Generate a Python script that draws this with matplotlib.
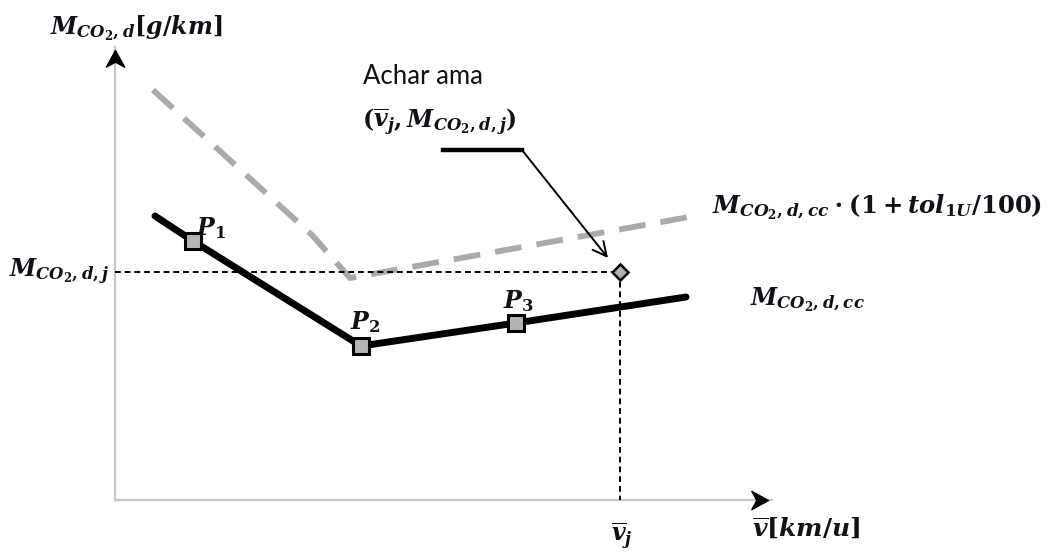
import matplotlib
matplotlib.use('Agg')
import numpy as np
from matplotlib import pyplot as plt
from matplotlib.path import Path

plt.rcParams['mathtext.fontset'] = 'custom'
plt.rcParams['mathtext.rm'] = 'DejaVu Serif:bold'
plt.rcParams['mathtext.it'] = 'DejaVu Serif:italic:bold'
plt.rcParams['mathtext.bf'] = 'DejaVu Serif:bold'

# emission curve M_CO2,d,cc (speed km/u, g/km)
v_cc = [8.0, 15.6, 49.2, 80.2, 114.2]
m_cc = [142.0, 129.5, 77.0, 88.5, 101.5]
point_idx = [1, 2, 3]
point_labels = ['$P_1$', '$P_2$', '$P_3$']

# tolerance curve M_CO2,d,cc * (1 + tol/100)
v_tol = [7.6, 39.4, 47.0, 117.0]
m_tol = [205.0, 132.5, 111.0, 142.5]

# measured point j
v_j = 101.0
m_j = 114.0

# axis extents
v_max = 131.4
m_max = 226.5

TXT = '#111118'
FS = 17

fig = plt.figure(figsize=(10.61, 5.54), dpi=100)
ax = fig.add_axes([0, 0, 1, 1])
ax.set_xlim(-23, 189.2)
ax.set_ylim(-27, 250)
ax.axis('off')

# axes lines with black arrowheads
ax.plot([0, v_max], [0, 0], color='#c8c8c8', lw=1.6, zorder=1)
ax.plot([0, 0], [0, m_max], color='#c8c8c8', lw=1.6, zorder=1)
head = Path([(0, 0), (-1.0, 0.55), (-0.7, 0), (-1.0, -0.55), (0, 0)],
            [Path.MOVETO, Path.LINETO, Path.LINETO, Path.LINETO, Path.CLOSEPOLY])
head_up = Path([(0, 0), (-0.55, -1.0), (0, -0.7), (0.55, -1.0), (0, 0)],
               [Path.MOVETO, Path.LINETO, Path.LINETO, Path.LINETO, Path.CLOSEPOLY])
ax.plot([v_max - 0.8], [0], marker=head, markersize=24, color='black', zorder=5)
ax.plot([0], [m_max - 1.5], marker=head_up, markersize=24, color='black', zorder=5)

# tolerance curve (gray dashed)
ax.plot(v_tol, m_tol, color='#aaaaaa', lw=4.2, dashes=(4.6, 2.6), solid_capstyle='butt', zorder=2)

# guide lines to point j
ax.plot([0, v_j], [m_j, m_j], color='black', lw=1.4, dashes=(3, 2), zorder=3)
ax.plot([v_j, v_j], [m_j, 0], color='black', lw=1.4, dashes=(3, 2), zorder=3)

# emission curve (black)
ax.plot(v_cc, m_cc, color='black', lw=5, solid_capstyle='round', zorder=4)
ax.plot([v_cc[i] for i in point_idx], [m_cc[i] for i in point_idx], ls='none',
        marker='s', markersize=11, markerfacecolor='#b4b4b4', markeredgecolor='black',
        markeredgewidth=2.2, zorder=6)
ax.plot([v_j], [m_j], marker='D', markersize=8, markerfacecolor='#b4b4b4',
        markeredgecolor='black', markeredgewidth=1.8, zorder=6)

# callout leader + arrow
ax.plot([65.6, 81.4], [175, 175], color='black', lw=3.2, zorder=4)
ax.annotate('', xy=(98.6, 121), xytext=(81.4, 175),
            arrowprops=dict(arrowstyle='->,head_length=1.0,head_width=0.5', color='black', lw=1.4,
                            shrinkA=0, shrinkB=0), zorder=4)

# texts
ax.text(-13, 236, r'$M_{CO_2,d}[g/km]$', fontsize=FS, color=TXT, va='center', ha='left')
ax.text(49.6, 212, 'Achar ama', fontsize=18.5, family='Lato', color=TXT, va='center', ha='left')
ax.text(49.4, 189, r'$(\overline{v}_j, M_{CO_2,d,j})$', fontsize=FS, color=TXT, va='center', ha='left')
ax.text(-1, 114, r'$M_{CO_2,d,j}$', fontsize=FS, color=TXT, va='center', ha='right')
ax.text(119.4, 146.5, r'$M_{CO_2,d,cc}\cdot(1 + tol_{1U}/100)$', fontsize=17.5, color=TXT,
        va='center', ha='left')
ax.text(127, 100, r'$M_{CO_2,d,cc}$', fontsize=FS, color=TXT, va='center', ha='left')
ax.text(101.4, -18, r'$\overline{v}_j$', fontsize=FS, color=TXT, va='center', ha='center')
ax.text(127.4, -14, r'$\overline{v}[km/u]$', fontsize=18, color=TXT, va='center', ha='left')

label_dx = [0.6, -2.2, -2.6]
label_dy = [6.5, 12, 11]
for i, lab, dx, dy in zip(point_idx, point_labels, label_dx, label_dy):
    ax.text(v_cc[i] + dx, m_cc[i] + dy, lab, fontsize=FS, color=TXT, va='center', ha='left')

fig.savefig('out.png', dpi=100)
